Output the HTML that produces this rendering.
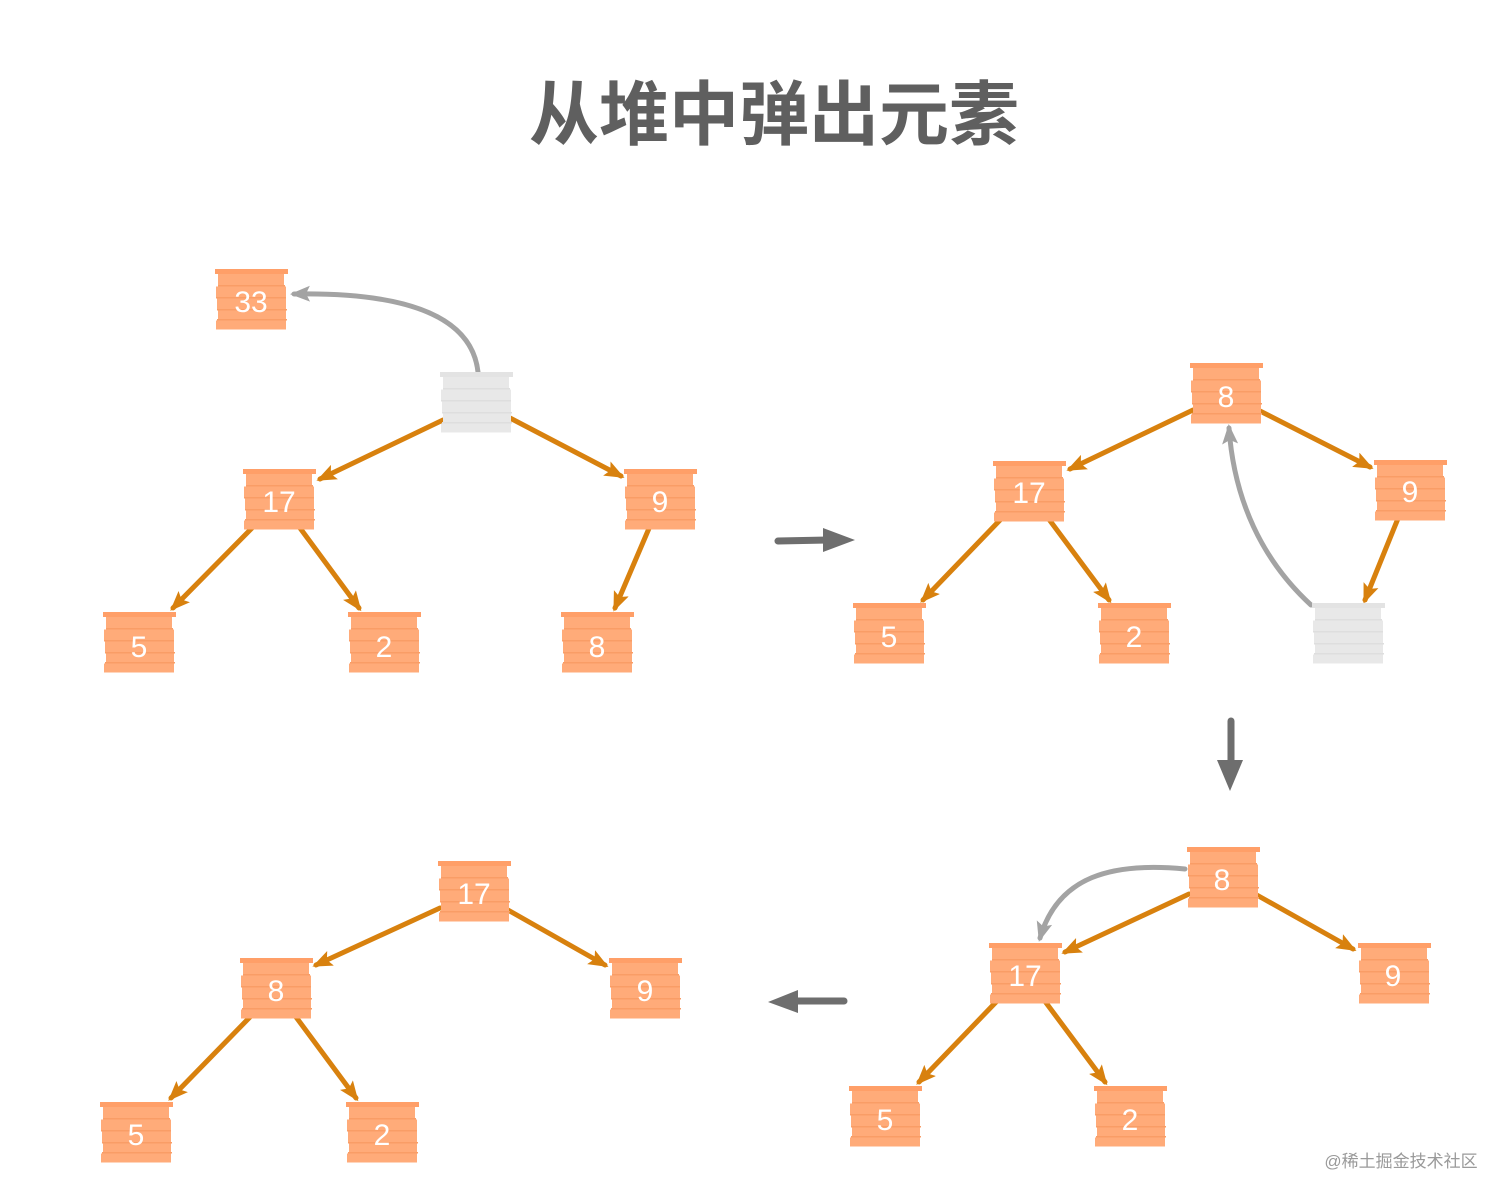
<!DOCTYPE html>
<html><head><meta charset="utf-8">
<style>
html,body{margin:0;padding:0;background:#fff;}
svg{display:block;}
.t{font-family:"Liberation Sans","Noto Sans CJK SC",sans-serif;font-size:30px;fill:#fff;text-anchor:middle;}
</style></head>
<body>
<svg width="1512" height="1201" viewBox="0 0 1512 1201" xmlns="http://www.w3.org/2000/svg">
<defs>
<g id="nd">
 <rect x="0" y="0" width="73" height="5" fill="#FF9F68"/>
 <rect x="3" y="5" width="66" height="11" fill="#FFAB79"/>
 <rect x="3" y="16" width="67" height="1.5" fill="#F99D66"/>
 <rect x="1" y="17.5" width="70" height="10.5" fill="#FFAB79"/>
 <rect x="1" y="28" width="70" height="1.5" fill="#F99D66"/>
 <rect x="2" y="29.5" width="69" height="10.5" fill="#FFAB79"/>
 <rect x="2" y="40" width="70" height="1.5" fill="#F99D66"/>
 <rect x="3" y="41.5" width="68" height="8.5" fill="#FFAB79"/>
 <rect x="2" y="50" width="70" height="1.5" fill="#F99D66"/>
 <rect x="1" y="51.5" width="70" height="9" fill="#FFAB79"/>
</g>
<g id="ng">
 <rect x="0" y="0" width="73" height="5" fill="#E3E3E3"/>
 <rect x="3" y="5" width="66" height="11" fill="#E8E8E8"/>
 <rect x="3" y="16" width="67" height="1.5" fill="#DEDEDE"/>
 <rect x="1" y="17.5" width="70" height="10.5" fill="#E8E8E8"/>
 <rect x="1" y="28" width="70" height="1.5" fill="#DEDEDE"/>
 <rect x="2" y="29.5" width="69" height="10.5" fill="#E8E8E8"/>
 <rect x="2" y="40" width="70" height="1.5" fill="#DEDEDE"/>
 <rect x="3" y="41.5" width="68" height="8.5" fill="#E8E8E8"/>
 <rect x="2" y="50" width="70" height="1.5" fill="#DEDEDE"/>
 <rect x="1" y="51.5" width="70" height="9" fill="#E8E8E8"/>
</g>
<marker id="ao" markerUnits="userSpaceOnUse" markerWidth="22" markerHeight="18" refX="16" refY="8" orient="auto">
 <path d="M0,0 L20,8 L0,16 L4,8 z" fill="#D8810E"/>
</marker>
<marker id="ag" markerUnits="userSpaceOnUse" markerWidth="22" markerHeight="18" refX="16" refY="8" orient="auto">
 <path d="M0,0 L20,8 L0,16 L4,8 z" fill="#A3A3A3"/>
</marker>
</defs>

<!-- Title -->
<text x="774" y="139" text-anchor="middle" font-family="'Liberation Sans','Noto Sans CJK SC',sans-serif" font-size="70" font-weight="bold" fill="#5F5F5F">从堆中弹出元素</text>

<g stroke="#D8810E" stroke-width="5" fill="none" stroke-linecap="round">
<!-- Panel 1 edges -->
<line x1="443" y1="420" x2="320" y2="479" marker-end="url(#ao)"/>
<line x1="510" y1="418" x2="621" y2="476" marker-end="url(#ao)"/>
<line x1="252" y1="528" x2="173" y2="608" marker-end="url(#ao)"/>
<line x1="300" y1="528" x2="359" y2="608" marker-end="url(#ao)"/>
<line x1="650" y1="526" x2="615" y2="608" marker-end="url(#ao)"/>
<!-- Panel 2 edges -->
<line x1="1193" y1="410" x2="1070" y2="469" marker-end="url(#ao)"/>
<line x1="1258" y1="410" x2="1370" y2="467" marker-end="url(#ao)"/>
<line x1="1002" y1="518" x2="923" y2="600" marker-end="url(#ao)"/>
<line x1="1048" y1="518" x2="1109" y2="600" marker-end="url(#ao)"/>
<line x1="1399" y1="516" x2="1365" y2="600" marker-end="url(#ao)"/>
<!-- Panel 3 edges -->
<line x1="1189" y1="894" x2="1065" y2="952" marker-end="url(#ao)"/>
<line x1="1255" y1="894" x2="1353" y2="949" marker-end="url(#ao)"/>
<line x1="998" y1="1000" x2="919" y2="1082" marker-end="url(#ao)"/>
<line x1="1044" y1="1000" x2="1105" y2="1082" marker-end="url(#ao)"/>
<!-- Panel 4 edges -->
<line x1="440" y1="908" x2="316" y2="965" marker-end="url(#ao)"/>
<line x1="508" y1="910" x2="605" y2="965" marker-end="url(#ao)"/>
<line x1="250" y1="1017" x2="171" y2="1098" marker-end="url(#ao)"/>
<line x1="296" y1="1017" x2="356" y2="1098" marker-end="url(#ao)"/>
</g>

<!-- Gray curved arrows -->
<g stroke="#A3A3A3" stroke-width="5" fill="none" stroke-linecap="round">
<path d="M478,372 C472,318 410,292 294,294" marker-end="url(#ag)"/>
<path d="M1311,605 C1262,560 1234,500 1229,428" marker-end="url(#ag)"/>
<path d="M1185,869 C1112,862 1058,876 1040,938" marker-end="url(#ag)"/>
</g>

<!-- Big gray step arrows -->
<g fill="#6E6E6E" stroke="#6E6E6E">
<line x1="778" y1="541" x2="828" y2="540" stroke-width="7" stroke-linecap="round"/>
<polygon points="823,528 855,540 823,552" stroke="none"/>
<line x1="1231" y1="721" x2="1231" y2="762" stroke-width="7" stroke-linecap="round"/>
<polygon points="1217,760 1243,760 1230,791" stroke="none"/>
<line x1="844" y1="1001" x2="795" y2="1001" stroke-width="7" stroke-linecap="round"/>
<polygon points="798,990 768,1002 798,1013" stroke="none"/>
</g>

<!-- Panel 1 nodes -->
<use href="#nd" x="215" y="269"/><text class="t" x="251" y="312">33</text>
<use href="#ng" x="440" y="372"/>
<use href="#nd" x="243" y="469"/><text class="t" x="279" y="512">17</text>
<use href="#nd" x="624" y="469"/><text class="t" x="660" y="512">9</text>
<use href="#nd" x="103" y="612"/><text class="t" x="139" y="657">5</text>
<use href="#nd" x="348" y="612"/><text class="t" x="384" y="657">2</text>
<use href="#nd" x="561" y="612"/><text class="t" x="597" y="657">8</text>

<!-- Panel 2 nodes -->
<use href="#nd" x="1190" y="363"/><text class="t" x="1226" y="407">8</text>
<use href="#nd" x="993" y="461"/><text class="t" x="1029" y="503">17</text>
<use href="#nd" x="1374" y="460"/><text class="t" x="1410" y="502">9</text>
<use href="#nd" x="853" y="603"/><text class="t" x="889" y="647">5</text>
<use href="#nd" x="1098" y="603"/><text class="t" x="1134" y="647">2</text>
<use href="#ng" x="1312" y="603"/>

<!-- Panel 3 nodes -->
<use href="#nd" x="1187" y="847"/><text class="t" x="1222" y="890">8</text>
<use href="#nd" x="989" y="943"/><text class="t" x="1025" y="986">17</text>
<use href="#nd" x="1358" y="943"/><text class="t" x="1393" y="986">9</text>
<use href="#nd" x="849" y="1086"/><text class="t" x="885" y="1130">5</text>
<use href="#nd" x="1094" y="1086"/><text class="t" x="1130" y="1130">2</text>

<!-- Panel 4 nodes -->
<use href="#nd" x="438" y="861"/><text class="t" x="474" y="904">17</text>
<use href="#nd" x="240" y="958"/><text class="t" x="276" y="1001">8</text>
<use href="#nd" x="609" y="958"/><text class="t" x="645" y="1001">9</text>
<use href="#nd" x="100" y="1102"/><text class="t" x="136" y="1145">5</text>
<use href="#nd" x="346" y="1102"/><text class="t" x="382" y="1145">2</text>

<!-- Watermark -->
<text x="1401" y="1167" text-anchor="middle" font-family="'Liberation Sans','Noto Sans CJK SC',sans-serif" font-size="17" fill="#9A9A9A">@稀土掘金技术社区</text>
</svg>
</body></html>
